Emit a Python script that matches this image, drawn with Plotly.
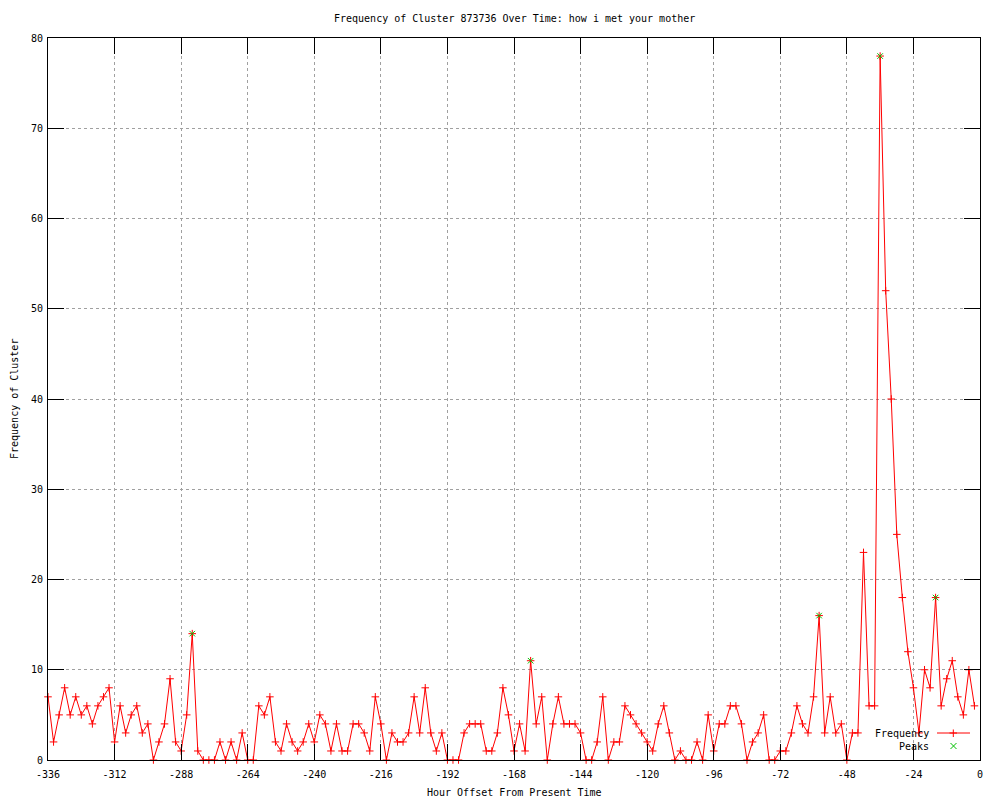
import plotly.graph_objects as go

# ---- data ----
hours = list(range(-336, 0, 2))  # -336 .. -2
frequency = [
    7, 2, 5, 8, 5, 7, 5, 6, 4, 6, 7, 8,
    2, 6, 3, 5, 6, 3, 4, 0, 2, 4, 9, 2,
    1, 5, 14, 1, 0, 0, 0, 2, 0, 2, 0, 3,
    0, 0, 6, 5, 7, 2, 1, 4, 2, 1, 2, 4,
    2, 5, 4, 1, 4, 1, 1, 4, 4, 3, 1, 7,
    4, 0, 3, 2, 2, 3, 7, 3, 8, 3, 1, 3,
    0, 0, 0, 3, 4, 4, 4, 1, 1, 3, 8, 5,
    1, 4, 1, 11, 4, 7, 0, 4, 7, 4, 4, 4,
    3, 0, 0, 2, 7, 0, 2, 2, 6, 5, 4, 3,
    2, 1, 4, 6, 3, 0, 1, 0, 0, 2, 0, 5,
    1, 4, 4, 6, 6, 4, 0, 2, 3, 5, 0, 0,
    1, 1, 3, 6, 4, 3, 7, 16, 3, 7, 3, 4,
    0, 3, 3, 23, 6, 6, 78, 52, 40, 25, 18, 12,
    8, 3, 10, 8, 18, 6, 9, 11, 7, 5, 10, 6,
]
peak_hours = [-284, -162, -58, -36, -16]
peak_values = [14, 11, 16, 78, 18]

x_ticks = list(range(-336, 1, 24))
y_ticks = list(range(0, 81, 10))

title_text = "Frequency of Cluster 873736 Over Time: how i met your mother"
x_title = "Hour Offset From Present Time"
y_title = "Frequency of Cluster"

FONT = "DejaVu Sans Mono"
RED = "#ff0000"
GREEN = "#00c000"

W, H = 1000, 800
L, R, T, B = 48, 20, 38, 40
PW, PH = W - L - R, H - T - B


def px(xp):
    return (xp - L) / PW


def py(yp):
    return (H - B - yp) / PH


fig = go.Figure()
fig.add_trace(go.Scatter(
    x=hours, y=frequency, mode="lines+markers", name="Frequency",
    line=dict(color=RED, width=1),
    marker=dict(symbol="cross-thin", size=5.4, color=RED,
                line=dict(color=RED, width=1)),
    cliponaxis=False, showlegend=False,
))
fig.add_trace(go.Scatter(
    x=peak_hours, y=peak_values, mode="markers", name="Peaks",
    marker=dict(symbol="x-thin", size=5.5, color=GREEN,
                line=dict(color=GREEN, width=1)),
    cliponaxis=False, showlegend=False,
))

axis_common = dict(
    showline=True, linecolor="black", linewidth=1, mirror="ticks",
    ticks="inside", ticklen=16, tickcolor="black", tickwidth=1,
    showgrid=True, gridcolor="#a0a0a0", gridwidth=1, griddash="dot",
    zeroline=False, tickfont=dict(family=FONT, size=10, color="black"),
)

fig.update_xaxes(range=[-336, 0], tickvals=x_ticks,
                 ticktext=[str(v) for v in x_ticks],
                 ticklabelstandoff=5, **axis_common)
fig.update_yaxes(range=[0, 80], tickvals=y_ticks,
                 ticktext=[str(v) for v in y_ticks],
                 ticklabelstandoff=2, **axis_common)

# legend (gnuplot style: text then sample)
leg_items = [("Frequency", 733), ("Peaks", 746)]
annotations = [
    dict(text=title_text, x=0.5, xref="paper", y=py(18), yref="paper",
         xanchor="center", yanchor="middle", showarrow=False,
         font=dict(family=FONT, size=10, color="black")),
    dict(text=x_title, x=0.5, xref="paper", y=py(793), yref="paper",
         xanchor="center", yanchor="middle", showarrow=False,
         font=dict(family=FONT, size=10, color="black")),
    dict(text=y_title, x=px(14), xref="paper", y=0.5, yref="paper",
         xanchor="center", yanchor="middle", showarrow=False, textangle=-90,
         font=dict(family=FONT, size=10, color="black")),
]
for txt, yy in leg_items:
    annotations.append(dict(text=txt, x=px(931), xref="paper", y=py(yy),
                            yref="paper", xanchor="right", yanchor="middle",
                            showarrow=False,
                            font=dict(family=FONT, size=10, color="black")))

shapes = [
    dict(type="line", xref="paper", yref="paper", x0=px(937), x1=px(970),
         y0=py(733), y1=py(733), line=dict(color=RED, width=1)),
    dict(type="line", xref="paper", yref="paper", x0=px(949.5), x1=px(957),
         y0=py(733), y1=py(733), line=dict(color=RED, width=1)),
    dict(type="line", xref="paper", yref="paper", x0=px(953.3), x1=px(953.3),
         y0=py(729.5), y1=py(737), line=dict(color=RED, width=1)),
    dict(type="line", xref="paper", yref="paper", x0=px(950.5), x1=px(956.5),
         y0=py(743), y1=py(749), line=dict(color=GREEN, width=1)),
    dict(type="line", xref="paper", yref="paper", x0=px(950.5), x1=px(956.5),
         y0=py(749), y1=py(743), line=dict(color=GREEN, width=1)),
]

fig.update_layout(
    width=W, height=H,
    margin=dict(l=L, r=R, t=T, b=B, pad=0),
    paper_bgcolor="white", plot_bgcolor="white",
    annotations=annotations, shapes=shapes,
    font=dict(family=FONT, size=10, color="black"),
    showlegend=False,
)

fig.write_html("out.html",
               config={"displayModeBar": False},
               post_script="document.body.style.margin='0';document.body.style.overflow='hidden';")
